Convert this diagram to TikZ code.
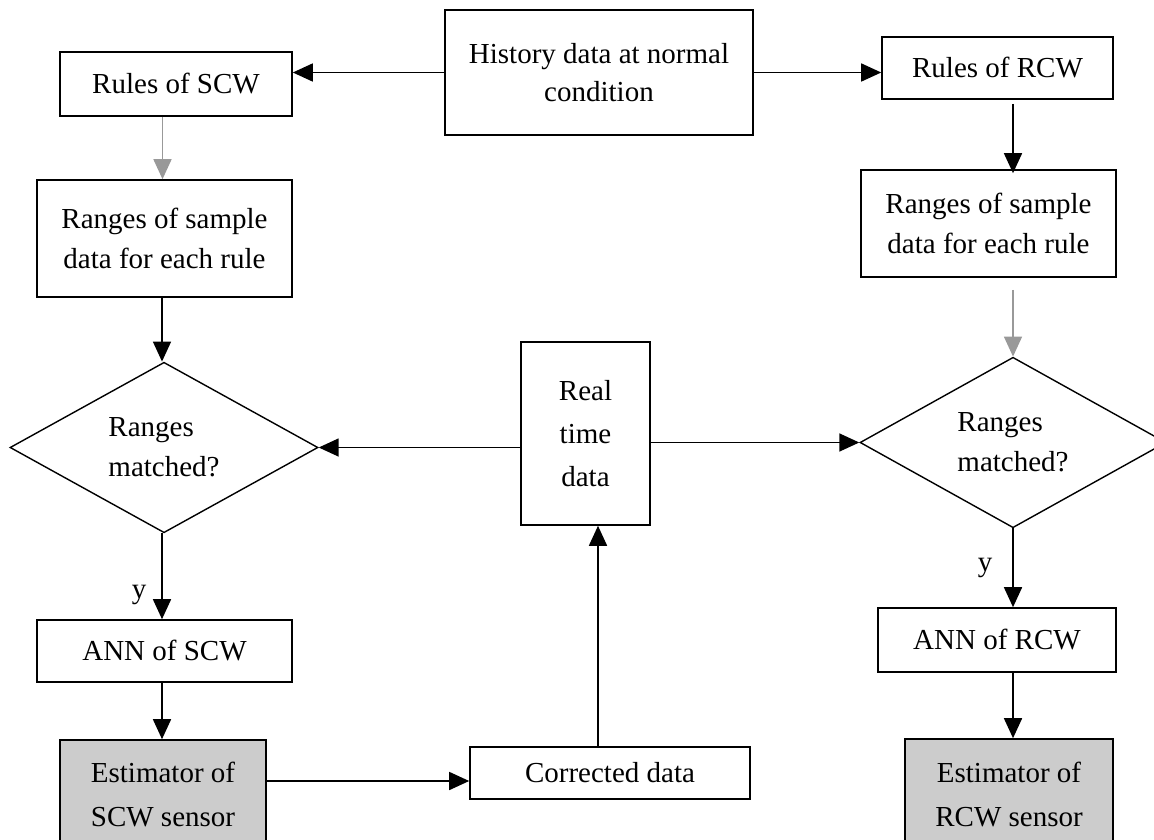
\documentclass[tikz,border=0pt]{standalone}
\usepackage{fontspec}
\setmainfont{Liberation Serif}
\usetikzlibrary{shapes.geometric,arrows.meta}
\begin{document}
\begin{tikzpicture}[x=0.5pt,y=-0.5pt,
  every node/.style={font=\fontsize{14.5}{20}\selectfont, align=center, inner sep=0pt},
  box/.style={draw, line width=0.8pt, rectangle},
  graybox/.style={box, fill=black!20, font=\fontsize{14.5}{22}\selectfont},
  dec/.style={draw, line width=0.7pt, diamond, minimum width=154pt, minimum height=82.5pt, align=left},
  arr/.style={line width=0.8pt, -{Triangle[length=10pt,width=9pt]}},
  grayarr/.style={arr, draw=black!40},
  lab/.style={font=\fontsize{14.5}{20}\selectfont}
]
\path[use as bounding box] (0,0) rectangle (1154,839);
\clip (0,0) rectangle (1154,839);
\fill[white] (0,0) rectangle (1154,839);

% nodes (centers and sizes in pixels of the reference)
\node[box, minimum width=154pt, minimum height=62.5pt, font=\fontsize{14.5}{19}\selectfont] (hist) at (599,72.5) {History data at normal\\condition};
\node[box, minimum width=116pt, minimum height=32pt] (scw) at (176,84) {Rules of SCW};
\node[box, minimum width=115.5pt, minimum height=31pt] (rcw) at (997.5,68) {Rules of RCW};
\node[box, minimum width=127.5pt, minimum height=58.5pt] (rng1) at (164.5,238.5) {Ranges of sample\\data for each rule};
\node[box, minimum width=127.5pt, minimum height=53.5pt] (rng2) at (988.5,223.5) {Ranges of sample\\data for each rule};
\node[dec] (dia1) at (164,447.5) {Ranges\\matched?};
\node[dec, minimum width=153pt] (dia2) at (1013,442.5) {Ranges\\matched?};
\node[box, minimum width=64.5pt, minimum height=91.5pt, font=\fontsize{14.5}{21.5}\selectfont] (rt) at (585.5,433.5) {Real\\time\\data};
\node[lab] (ylab1) at (139,595) {y};
\node[lab] (ylab2) at (985,568) {y};
\node[box, minimum width=127.5pt, minimum height=31pt] (ann1) at (164.5,651) {ANN of SCW};
\node[box, minimum width=119pt, minimum height=32pt] (ann2) at (997,640) {ANN of RCW};
\node[graybox, minimum width=103pt, minimum height=55pt] (est1) at (163,795) {Estimator of\\SCW sensor};
\node[graybox, minimum width=104pt, minimum height=55.5pt] (est2) at (1009,794.5) {Estimator of\\RCW sensor};
\node[box, minimum width=140pt, minimum height=26pt] (cor) at (610,773) {Corrected data};

% connectors
\draw[arr] (hist.west) -- (hist.west -| scw.east);
\draw[arr] (hist.east) -- (hist.east -| rcw.west);
\draw[grayarr] ([xshift=-1pt]rng1.north |- scw.south) -- ([xshift=-1pt]rng1.north);
\draw[arr] ([yshift=-2pt]dia2.north |- rcw.south) -- ([yshift=-2pt]dia2.north |- rng2.north);
\draw[arr] ([xshift=-1pt]dia1.north |- rng1.south) -- ([xshift=-1pt]dia1.north);
\draw[grayarr] ([yshift=-6pt]dia2.north |- rng2.south) -- (dia2.north);
\draw[arr] (rt.west |- dia1.east) -- (dia1.east);
\draw[arr] (rt.east |- dia2.west) -- (dia2.west);
\draw[arr] ([xshift=-1pt]dia1.south) -- ([xshift=-1pt]dia1.south |- ann1.north);
\draw[arr] ([xshift=-1pt]dia1.south |- ann1.south) -- ([xshift=-1pt]dia1.south |- est1.north);
\draw[arr] (dia2.south) -- (dia2.south |- ann2.north);
\draw[arr] (dia2.south |- ann2.south) -- (dia2.south |- est2.north);
\draw[arr] ([yshift=7pt]est1.east) -- ([yshift=7pt]est1.east -| cor.west);
\draw[arr] ([xshift=-6pt]cor.north) -- ([xshift=-6pt]cor.north |- rt.south);
\end{tikzpicture}
\end{document}
